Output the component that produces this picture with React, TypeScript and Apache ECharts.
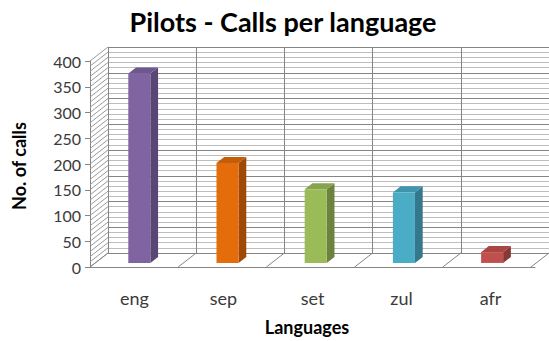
import React, { useEffect, useRef } from "react";
import * as echarts from "echarts";

const categories = ["eng", "sep", "set", "zul", "afr"];
const calls = [368, 194, 143, 137, 21];
const frontColors = ["#8064A2", "#E46C0A", "#9BBB59", "#4BACC6", "#C0504D"];
const sideColors = ["#5A4674", "#9E4A06", "#6C833E", "#33788B", "#873835"];
const topColors = ["#6E5690", "#C45D08", "#86A34D", "#3E95AC", "#A94643"];
const yMin = 0;
const yMax = 400;
const yInterval = 50;
const yMinorSplit = 5;
const titleText = "Pilots - Calls per language";
const xName = "Languages";
const yName = "No. of calls";

// projection of depth (back wall -> front edge)
const DX = -18;
const DY = 14;
const BAR_FRONT = 0.71;
const BAR_BACK = 0.28;
const BAR_WIDTH = 0.25;

const FONT = "Lato, 'Open Sans', sans-serif";

export default function App() {
  const ref = useRef<HTMLDivElement>(null);
  useEffect(() => {
    if (!ref.current) return;
    const chart = echarts.init(ref.current, undefined, { renderer: "svg" });
    const minorStep = yInterval / yMinorSplit;
    const option: any = {
      animation: false,
      backgroundColor: "#ffffff",
      textStyle: { fontFamily: FONT },
      grid: [
        { left: 108, top: 47, right: -4, bottom: 88 },
        { left: 90, top: 61, right: 14, bottom: 74 },
      ],
      xAxis: [
        {
          gridIndex: 0,
          type: "category",
          data: categories,
          boundaryGap: true,
          axisLine: { show: false },
          axisTick: { show: false },
          axisLabel: { show: false },
          splitLine: { show: true, lineStyle: { color: "#858585", width: 1 } },
        },
        {
          gridIndex: 1,
          type: "category",
          data: categories,
          boundaryGap: true,
          axisLine: { show: true, lineStyle: { color: "#858585", width: 1 } },
          axisTick: { show: false },
          axisLabel: { fontSize: 18, color: "#3a3a3a", margin: 22, fontFamily: FONT },
          splitLine: { show: false },
        },
      ],
      yAxis: [
        {
          gridIndex: 0,
          type: "value",
          min: yMin,
          max: yMax,
          interval: yInterval,
          axisLine: { show: false },
          axisTick: { show: false },
          axisLabel: { show: false },
          splitLine: { show: true, lineStyle: { color: "#858585", width: 1 } },
          minorTick: { show: false, splitNumber: yMinorSplit },
          minorSplitLine: { show: true, lineStyle: { color: "#bdbdbd", width: 1 } },
        },
        {
          gridIndex: 1,
          type: "value",
          min: yMin,
          max: yMax,
          interval: yInterval,
          axisLine: { show: true, lineStyle: { color: "#858585", width: 1 } },
          axisTick: { show: true, length: 5, lineStyle: { color: "#858585" } },
          axisLabel: { fontSize: 16, color: "#3a3a3a", margin: 9, fontFamily: FONT },
          splitLine: { show: false },
        },
      ],
      series: [
        {
          type: "custom",
          name: "walls",
          xAxisIndex: 0,
          yAxisIndex: 0,
          silent: true,
          z: 1,
          data: [[0, 0]],
          renderItem: (params: any, api: any) => {
            const cs = params.coordSys;
            const children: any[] = [];
            const lineStyle = { stroke: "#9a9a9a", lineWidth: 1 };
            for (let v = yMin; v <= yMax + 0.001; v += minorStep) {
              const y = api.coord([0, v])[1];
              children.push({
                type: "line",
                shape: { x1: cs.x, y1: y, x2: cs.x + DX, y2: y + DY },
                style: lineStyle,
              });
            }
            const y0 = api.coord([0, yMin])[1];
            const bw = cs.width / categories.length;
            for (let i = 0; i <= categories.length; i++) {
              const x = cs.x + i * bw;
              children.push({
                type: "line",
                shape: { x1: x, y1: y0, x2: x + DX, y2: y0 + DY },
                style: { stroke: "#858585", lineWidth: 1 },
              });
            }
            return { type: "group", children };
          },
        },
        {
          type: "custom",
          name: "No. of calls",
          xAxisIndex: 0,
          yAxisIndex: 0,
          z: 5,
          encode: { x: 0, y: 1 },
          data: calls.map((v, i) => [i, v]),
          renderItem: (params: any, api: any) => {
            const idx = api.value(0);
            const val = api.value(1);
            const pBase = api.coord([idx, yMin]);
            const pTop = api.coord([idx, val]);
            const bw = api.size([1, 0])[0];
            const w = bw * BAR_WIDTH;
            const fx = pBase[0] + DX * BAR_FRONT - w / 2;
            const fyb = pBase[1] + DY * BAR_FRONT;
            const fyt = pTop[1] + DY * BAR_FRONT;
            const ox = DX * (BAR_BACK - BAR_FRONT);
            const oy = DY * (BAR_BACK - BAR_FRONT);
            const i = params.dataIndex;
            return {
              type: "group",
              children: [
                {
                  type: "polygon",
                  shape: {
                    points: [
                      [fx + w, fyt],
                      [fx + w, fyb],
                      [fx + w + ox, fyb + oy],
                      [fx + w + ox, fyt + oy],
                    ],
                  },
                  style: { fill: sideColors[i] },
                },
                {
                  type: "polygon",
                  shape: {
                    points: [
                      [fx, fyt],
                      [fx + w, fyt],
                      [fx + w + ox, fyt + oy],
                      [fx + ox, fyt + oy],
                    ],
                  },
                  style: { fill: topColors[i] },
                },
                {
                  type: "rect",
                  shape: { x: fx, y: fyt, width: w, height: fyb - fyt },
                  style: { fill: frontColors[i] },
                },
              ],
            };
          },
        },
      ],
      graphic: [
        {
          type: "text",
          x: 283,
          y: 21,
          style: {
            text: titleText,
            font: `bold 27px ${FONT}`,
            fill: "#000000",
            align: "center",
            verticalAlign: "middle",
          },
        },
        {
          type: "text",
          x: 307,
          y: 327,
          style: {
            text: xName,
            font: `bold 18px ${FONT}`,
            fill: "#000000",
            align: "center",
            verticalAlign: "middle",
          },
        },
        {
          type: "text",
          x: 19,
          y: 166,
          rotation: Math.PI / 2,
          style: {
            text: yName,
            font: `bold 18px ${FONT}`,
            fill: "#000000",
            align: "center",
            verticalAlign: "middle",
          },
        },
      ],
    };
    chart.setOption(option);
    return () => chart.dispose();
  }, []);
  return (
    <div
      ref={ref}
      style={{ position: "absolute", left: 0, top: 0, width: 549, height: 341 }}
    />
  );
}
